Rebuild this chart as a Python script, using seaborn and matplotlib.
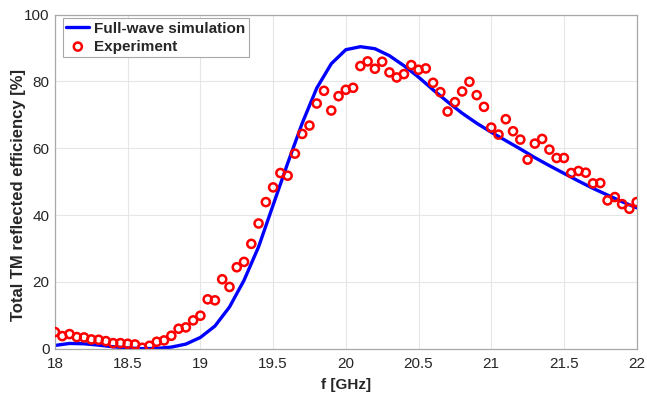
import numpy as np
import pandas as pd
import matplotlib
matplotlib.use("Agg")
import matplotlib.pyplot as plt
import seaborn as sns

# Simulation (full-wave) curve
sim_f = [18.0, 18.1, 18.2, 18.3, 18.4, 18.5, 18.6, 18.7, 18.8, 18.9,
         19.0, 19.1, 19.2, 19.3, 19.4, 19.5, 19.6, 19.7, 19.8, 19.9,
         20.0, 20.1, 20.2, 20.3, 20.4, 20.5, 20.6, 20.7, 20.8, 20.9,
         21.0, 21.1, 21.2, 21.3, 21.4, 21.5, 21.6, 21.7, 21.8, 21.9, 22.0]
sim_eff = [1.0, 1.6, 1.5, 1.1, 0.6, 0.25, 0.05, 0.1, 0.5, 1.4,
           3.4, 6.8, 12.5, 20.5, 30.5, 43.0, 55.5, 67.5, 78.0, 85.3,
           89.5, 90.4, 89.8, 87.7, 84.7, 81.3, 77.5, 73.9, 70.5, 67.5,
           64.8, 62.3, 59.8, 57.2, 54.8, 52.5, 50.2, 48.0, 46.0, 44.0, 42.2]

# Experiment
exp_f = [18.00, 18.05, 18.10, 18.15, 18.20, 18.25, 18.30, 18.35, 18.40, 18.45,
         18.50, 18.55, 18.60, 18.65, 18.70, 18.75, 18.80, 18.85, 18.90, 18.95,
         19.00, 19.05, 19.10, 19.15, 19.20, 19.25, 19.30, 19.35, 19.40, 19.45,
         19.50, 19.55, 19.60, 19.65, 19.70, 19.75, 19.80, 19.85, 19.90, 19.95,
         20.00, 20.05, 20.10, 20.15, 20.20, 20.25, 20.30, 20.35, 20.40, 20.45,
         20.50, 20.55, 20.60, 20.65, 20.70, 20.75, 20.80, 20.85, 20.90, 20.95,
         21.00, 21.05, 21.10, 21.15, 21.20, 21.25, 21.30, 21.35, 21.40, 21.45,
         21.50, 21.55, 21.60, 21.65, 21.70, 21.75, 21.80, 21.85, 21.90, 21.95, 22.00]
exp_eff = [5.0, 3.8, 4.4, 3.5, 3.4, 2.8, 2.7, 2.3, 1.7, 1.7,
           1.5, 1.3, 0.3, 0.9, 2.1, 2.5, 3.9, 6.0, 6.4, 8.5,
           9.9, 14.8, 14.5, 20.8, 18.5, 24.4, 26.0, 31.4, 37.5, 43.9,
           48.3, 52.6, 51.8, 58.4, 64.3, 66.8, 73.4, 77.2, 71.3, 75.6,
           77.5, 78.1, 84.6, 86.0, 83.8, 85.9, 82.7, 81.2, 82.2, 84.9,
           83.5, 83.9, 79.6, 76.8, 71.0, 73.8, 77.0, 79.9, 75.9, 72.4,
           66.2, 64.1, 68.7, 65.1, 62.6, 56.6, 61.4, 62.8, 59.6, 57.1,
           57.1, 52.6, 53.2, 52.7, 49.5, 49.6, 44.4, 45.4, 43.3, 41.9, 43.9]

x_ticks = [18, 18.5, 19, 19.5, 20, 20.5, 21, 21.5, 22]
x_tick_labels = ["18", "18.5", "19", "19.5", "20", "20.5", "21", "21.5", "22"]
y_ticks = [0, 20, 40, 60, 80, 100]

sns.set_style("whitegrid")
plt.rcParams['font.family'] = ['Liberation Sans', 'DejaVu Sans']

fig = plt.figure(figsize=(6.47, 3.95), dpi=100)
ax = fig.add_axes([0.085, 0.117, 0.899, 0.846])

sim_df = pd.DataFrame({"f": sim_f, "eff": sim_eff})
exp_df = pd.DataFrame({"f": exp_f, "eff": exp_eff})

sns.lineplot(data=sim_df, x="f", y="eff", ax=ax, color="#0000ff",
             linewidth=2.4, label="Full-wave simulation", zorder=2)
sns.scatterplot(data=exp_df, x="f", y="eff", ax=ax, marker="o",
                facecolor="none", edgecolor="#ff0000", linewidth=1.8,
                s=34, label="Experiment", zorder=3)

ax.set_xlim(18, 22)
ax.set_ylim(0, 100)
ax.set_xticks(x_ticks)
ax.set_xticklabels(x_tick_labels)
ax.set_yticks(y_ticks)

ax.grid(True, color="#e6e6e6", linewidth=0.8)
for s in ax.spines.values():
    s.set_visible(True)
    s.set_color("#a8a8a8")
    s.set_linewidth(0.9)
ax.tick_params(axis="both", direction="in", length=4, width=0.8,
               color="#8a8a8a", labelsize=11, labelcolor="#262626", pad=4)
ax.tick_params(axis="x", pad=6)

ax.set_xlabel("f [GHz]", fontsize=11, fontweight="bold", color="#262626", labelpad=5)
ax.set_ylabel("Total TM reflected efficiency [%]", fontsize=12,
              fontweight="bold", color="#262626")
ax.yaxis.set_label_coords(-0.05, 0.46)

leg = ax.legend(loc="upper left", bbox_to_anchor=(0.013, 0.99), frameon=True,
                fancybox=False, edgecolor="#a8a8a8", framealpha=1,
                prop={"weight": "bold", "size": 11}, handlelength=1.5,
                handletextpad=0.3, borderpad=0.25, labelspacing=0.25,
                borderaxespad=0.0)
leg.get_frame().set_linewidth(0.8)

fig.savefig("out.png", dpi=100)
